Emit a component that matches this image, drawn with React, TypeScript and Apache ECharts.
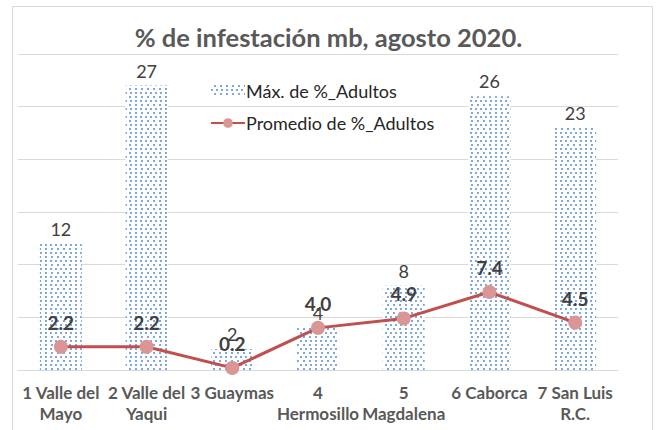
import React, { useEffect, useRef } from "react";
import * as echarts from "echarts";

const categories = [
  "1 Valle del\nMayo",
  "2 Valle del\nYaqui",
  "3 Guaymas",
  "4\nHermosillo",
  "5\nMagdalena",
  "6 Caborca",
  "7 San Luis\nR.C.",
];
const maxValues = [12, 27, 2, 4, 8, 26, 23];
const avgValues = [2.2, 2.2, 0.2, 4.0, 4.9, 7.4, 4.5];
const avgLabels = ["2.2", "2.2", "0.2", "4.0", "4.9", "7.4", "4.5"];

const FONT = "Lato, 'Open Sans', sans-serif";

export default function App() {
  const ref = useRef<HTMLDivElement>(null);
  useEffect(() => {
    if (!ref.current) return;
    const chart = echarts.init(ref.current, null, { renderer: "svg" });
    const decal = {
      symbol: "rect",
      symbolSize: 1,
      color: "#7fa8dd",
      backgroundColor: "#ffffff",
      dashArrayX: [
        [2, 2.5],
        [0, 2.2, 2, 0.3],
      ],
      dashArrayY: [2, 1.8],
      rotation: 0,
    };
    chart.setOption({
      animation: false,
      backgroundColor: "#ffffff",
      textStyle: { fontFamily: FONT },
      title: {
        text: "% de infestación mb, agosto 2020.",
        left: "center",
        top: 19,
        textStyle: {
          fontFamily: FONT,
          fontWeight: "bold",
          fontSize: 25.5,
          color: "#595959",
        },
      },
      legend: {
        orient: "vertical",
        left: 205,
        top: 77,
        itemGap: 14,
        itemWidth: 34,
        itemHeight: 12,
        textStyle: { fontFamily: FONT, fontSize: 18, color: "#262626", padding: [0, 0, 0, -4] },
        data: [
          { name: "Máx. de %_Adultos", icon: "rect" },
          { name: "Promedio de %_Adultos" },
        ],
      },
      graphic: [
        {
          type: "rect",
          shape: { x: 12.5, y: 6.5, width: 640, height: 430 },
          style: { fill: "none", stroke: "#d9d9d9", lineWidth: 1 },
          silent: true,
        },
      ],
      grid: { left: 18, right: 39, top: 54, bottom: 60, containLabel: false },
      xAxis: {
        type: "category",
        data: categories,
        axisTick: { show: false },
        axisLine: { lineStyle: { color: "#d9d9d9", width: 1 } },
        axisLabel: {
          interval: 0,
          margin: 12,
          fontFamily: FONT,
          fontWeight: "bold",
          fontSize: 17,
          color: "#595959",
          lineHeight: 21,
        },
      },
      yAxis: {
        type: "value",
        min: 0,
        max: 30,
        interval: 5,
        axisLabel: { show: false },
        axisLine: { show: false },
        axisTick: { show: false },
        splitLine: { lineStyle: { color: "#d9d9d9", width: 1 } },
      },
      series: [
        {
          name: "Máx. de %_Adultos",
          type: "bar",
          data: maxValues,
          barCategoryGap: "51%",
          itemStyle: { color: "#ffffff", decal },
          label: {
            show: true,
            position: "top",
            distance: 6,
            fontFamily: FONT,
            fontSize: 18,
            color: "#404040",
          },
        },
        {
          name: "Promedio de %_Adultos",
          type: "line",
          data: avgValues,
          symbol: "circle",
          symbolSize: 14,
          lineStyle: { color: "#c0504d", width: 3 },
          itemStyle: { color: "#d99694", borderWidth: 0 },
          label: {
            show: true,
            position: "top",
            distance: 8,
            fontFamily: FONT,
            fontWeight: "bold",
            fontSize: 19,
            color: "#404040",
            formatter: (p: any) => avgLabels[p.dataIndex],
          },
        },
      ],
    });
    return () => chart.dispose();
  }, []);
  return (
    <div
      ref={ref}
      style={{ position: "fixed", left: 0, top: 0, width: 657, height: 430 }}
    />
  );
}
